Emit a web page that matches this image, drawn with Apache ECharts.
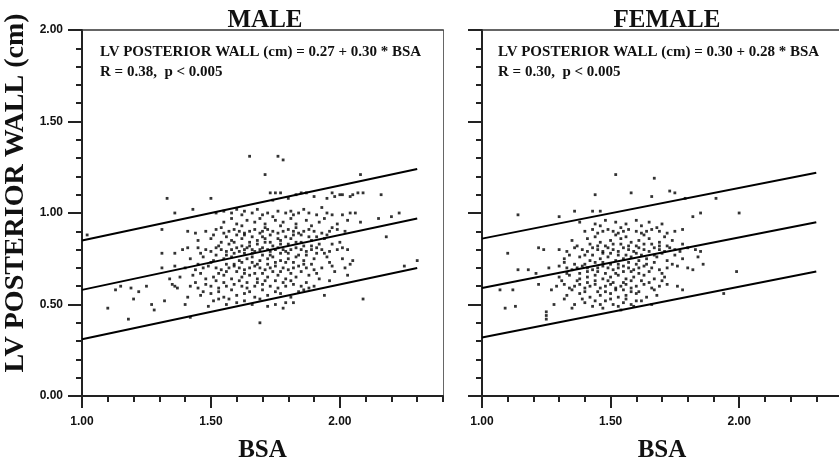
<!DOCTYPE html>
<html>

<head>
    <meta charset="utf-8">
    <script type="text/javascript" src="https://cdn.jsdelivr.net/npm/echarts@6/dist/echarts.min.js"></script>
    <title>LV posterior wall vs BSA</title>
</head>

<body style="margin:0;background:#fff;">
    <div id="container" style="width:839px;height:461px;"></div>
    <script type="text/javascript">
    // ---- data ----
    var panelTitles = ['MALE', 'FEMALE'];
    var equations = [
        'LV POSTERIOR WALL (cm) = 0.27 + 0.30 * BSA',
        'LV POSTERIOR WALL (cm) = 0.30 + 0.28 * BSA'
    ];
    var stats = ['R = 0.38,  p < 0.005', 'R = 0.30,  p < 0.005'];

    var xMajor = [1.0, 1.5, 2.0];       // labelled BSA ticks
    var lineBsa = [1.0, 2.3];           // regression lines run over this range

    var maleUpper = [0.85, 1.24];
    var maleMid = [0.58, 0.97];
    var maleLower = [0.31, 0.70];
    var femaleUpper = [0.86, 1.22];
    var femaleMid = [0.59, 0.95];
    var femaleLower = [0.32, 0.68];

    var malePoints = [
        [1.65,1.31],[1.76,1.31],[1.78,1.29],[1.71,1.21],[2.08,1.21],[2.16,1.10],
        [1.33,1.08],[1.50,1.08],[1.43,1.02],[1.36,1.00],[1.02,0.88],[1.31,0.91],
        [1.13,0.58],[1.15,0.60],[1.19,0.59],[1.22,0.57],[1.25,0.60],[1.10,0.48],
        [1.20,0.53],[1.18,0.42],[1.27,0.50],[1.28,0.47],[1.32,0.52],[1.69,0.40],
        [2.09,0.53],[2.30,0.74],[2.25,0.71],[2.18,0.87],[2.23,1.00],[2.20,0.98],
        [2.15,0.97],[1.94,0.55],[1.96,0.63],
        [1.31,0.78],[1.36,0.78],[1.39,0.80],[1.41,0.81],[1.45,0.81],
        [1.34,0.64],[1.36,0.60],[1.37,0.59],[1.35,0.61],
        [1.40,0.50],[1.41,0.54],[1.42,0.43],[1.49,0.49],[1.51,0.52],[1.53,0.53],[1.56,0.50],
        [1.73,1.11],[1.75,1.11],[1.77,1.11],[1.74,1.07],[1.83,1.10],[1.85,1.11],[1.87,1.11],
        [1.97,1.11],[1.98,1.09],[2.00,1.10],[2.01,1.10],[2.04,1.09],[2.05,1.10],[2.07,1.11],[2.09,1.11],
        [1.80,1.08],[1.90,1.09],[1.95,1.08],
        [1.52,1.00],[1.55,1.01],[1.58,1.00],[1.60,1.02],[1.62,0.99],[1.63,1.01],[1.66,1.00],[1.68,1.02],
        [1.70,0.99],[1.72,1.00],[1.74,0.98],[1.76,1.01],[1.79,1.00],[1.81,1.01],[1.82,0.99],[1.84,1.00],
        [1.86,1.02],[1.88,1.00],[1.91,0.99],[1.93,1.03],[1.95,1.00],[1.97,0.99],[2.01,0.99],[2.04,1.00],[2.06,1.00],
        [1.55,0.95],[1.60,0.94],[1.64,0.96],[1.67,0.95],[1.71,0.94],[1.75,0.96],[1.78,0.95],[1.83,0.94],
        [1.87,0.96],[1.92,0.95],[1.99,0.94],[2.03,0.96],[2.08,0.95],
        [1.41,0.90],[1.44,0.89],[1.48,0.90],[1.52,0.91],[1.55,0.89],[1.57,0.90],[1.59,0.91],[1.61,0.90],
        [1.63,0.89],[1.65,0.90],[1.67,0.91],[1.69,0.89],[1.70,0.90],[1.72,0.91],[1.74,0.90],[1.76,0.89],
        [1.78,0.90],[1.80,0.91],[1.82,0.90],[1.84,0.89],[1.86,0.90],[1.88,0.91],[1.90,0.90],[1.93,0.89],
        [1.96,0.90],[1.99,0.91],[2.02,0.90],
        [1.45,0.85],[1.50,0.86],[1.54,0.84],[1.58,0.85],[1.62,0.86],[1.65,0.84],[1.68,0.85],[1.71,0.86],
        [1.73,0.84],[1.77,0.85],[1.81,0.86],[1.85,0.84],[1.89,0.85],[1.94,0.86],[2.00,0.84],
        [1.48,0.80],[1.50,0.79],[1.52,0.81],[1.54,0.80],[1.56,0.79],[1.58,0.80],[1.60,0.81],[1.61,0.79],
        [1.63,0.80],[1.64,0.81],[1.66,0.80],[1.67,0.79],[1.69,0.80],[1.70,0.81],[1.72,0.80],[1.73,0.79],
        [1.75,0.80],[1.76,0.81],[1.78,0.80],[1.79,0.79],[1.81,0.80],[1.83,0.81],[1.85,0.80],[1.87,0.79],
        [1.89,0.80],[1.91,0.81],[1.93,0.80],[1.96,0.79],[1.99,0.80],[2.01,0.81],[2.03,0.80],
        [1.42,0.75],[1.47,0.76],[1.51,0.74],[1.55,0.75],[1.58,0.76],[1.61,0.74],[1.64,0.75],[1.66,0.76],
        [1.69,0.74],[1.72,0.75],[1.74,0.76],[1.77,0.74],[1.80,0.75],[1.83,0.76],[1.86,0.74],[1.90,0.75],
        [1.95,0.76],[2.01,0.75],[2.05,0.74],
        [1.31,0.70],[1.36,0.71],[1.40,0.70],[1.44,0.69],[1.47,0.70],[1.49,0.71],[1.52,0.70],[1.54,0.69],
        [1.57,0.70],[1.59,0.71],[1.61,0.70],[1.63,0.69],[1.65,0.70],[1.67,0.71],[1.69,0.70],[1.71,0.69],
        [1.73,0.70],[1.75,0.71],[1.78,0.70],[1.80,0.69],[1.82,0.70],[1.84,0.71],[1.87,0.70],[1.90,0.69],
        [1.93,0.70],[1.97,0.71],[2.02,0.70],[2.04,0.72],
        [1.38,0.65],[1.43,0.66],[1.48,0.64],[1.51,0.65],[1.55,0.66],[1.58,0.64],[1.62,0.65],[1.65,0.66],
        [1.68,0.64],[1.72,0.65],[1.76,0.66],[1.79,0.64],[1.83,0.65],[1.88,0.66],[1.92,0.64],
        [1.42,0.60],[1.45,0.59],[1.48,0.61],[1.50,0.60],[1.53,0.59],[1.56,0.60],[1.59,0.61],[1.62,0.60],
        [1.64,0.59],[1.67,0.60],[1.70,0.61],[1.73,0.60],[1.76,0.59],[1.79,0.60],[1.82,0.61],[1.85,0.60],[1.88,0.59],
        [1.46,0.55],[1.50,0.56],[1.55,0.54],[1.60,0.55],[1.63,0.56],[1.67,0.54],[1.72,0.55],[1.77,0.56],[1.81,0.54],
        [1.60,0.51],[1.66,0.50],[1.72,0.49],[1.75,0.50],[1.78,0.48],[1.79,0.51],[1.82,0.51],
        [1.57,0.83],[1.62,0.82],[1.68,0.83],[1.74,0.82],[1.80,0.83],[1.86,0.82],[1.92,0.83],
        [1.56,0.77],[1.63,0.78],[1.70,0.77],[1.77,0.78],[1.84,0.77],[1.91,0.78],
        [1.59,0.72],[1.66,0.73],[1.72,0.72],[1.79,0.73],[1.86,0.72],
        [1.53,0.67],[1.60,0.68],[1.67,0.67],[1.74,0.68],[1.81,0.67],
        [1.60,0.88],[1.66,0.87],[1.73,0.88],[1.79,0.87],[1.85,0.88],[1.91,0.87],
        [1.64,0.62],[1.71,0.63],[1.78,0.62],[1.52,0.63],
        [1.58,0.97],[1.69,0.97],[1.81,0.97],[1.94,0.97],
        [1.54,0.92],[1.62,0.93],[1.71,0.92],[1.77,0.93],[1.83,0.92],[1.89,0.93],[1.97,0.92],
        [1.51,0.88],[1.56,0.87],[1.63,0.88],[1.70,0.87],[1.76,0.86],[1.82,0.88],[1.88,0.87],[1.95,0.88],
        [1.53,0.82],[1.59,0.84],[1.65,0.82],[1.71,0.84],[1.77,0.83],[1.83,0.84],[1.89,0.82],[1.97,0.83],
        [1.46,0.78],[1.52,0.77],[1.59,0.78],[1.66,0.78],[1.73,0.77],[1.80,0.78],[1.87,0.77],[1.94,0.78],
        [1.45,0.72],[1.50,0.73],[1.56,0.72],[1.62,0.73],[1.68,0.72],[1.75,0.73],[1.82,0.73],[1.89,0.72],[1.96,0.73],
        [1.46,0.67],[1.56,0.68],[1.63,0.67],[1.70,0.67],[1.77,0.68],[1.85,0.68],[1.91,0.67],
        [1.44,0.62],[1.55,0.62],[1.61,0.63],[1.68,0.62],[1.75,0.63],[1.81,0.63],[1.87,0.62],
        [1.47,0.57],[1.53,0.57],[1.58,0.58],[1.65,0.57],[1.70,0.58],[1.75,0.57],[1.84,0.57],
        [1.57,0.53],[1.63,0.52],[1.69,0.53],[1.86,0.58],[1.90,0.60],[1.98,0.68],[2.03,0.66]
    ];

    var femalePoints = [
        [1.52,1.21],[1.67,1.19],[1.44,1.10],[1.58,1.11],[1.73,1.12],[1.75,1.11],[1.79,1.08],[1.91,1.08],[1.66,1.09],
        [1.14,0.99],[1.36,1.01],[1.30,0.98],[2.00,1.00],[1.85,1.00],[1.82,0.98],[1.43,1.01],[1.46,1.01],
        [1.10,0.78],[1.14,0.69],[1.18,0.69],[1.21,0.67],[1.07,0.58],[1.12,0.58],[1.09,0.48],[1.13,0.49],
        [1.25,0.44],[1.25,0.42],[1.25,0.46],[1.99,0.68],[1.94,0.56],[1.22,0.81],[1.24,0.80],
        [1.28,0.50],[1.32,0.53],[1.35,0.48],[1.22,0.61],[1.27,0.58],[1.86,0.72],[1.82,0.69],[1.78,0.58],
        [1.38,0.95],[1.44,0.94],[1.48,0.96],[1.52,0.95],[1.56,0.94],[1.60,0.96],[1.65,0.95],[1.70,0.94],
        [1.40,0.90],[1.43,0.91],[1.45,0.89],[1.47,0.90],[1.49,0.91],[1.51,0.90],[1.53,0.89],[1.55,0.90],
        [1.57,0.91],[1.60,0.90],[1.62,0.89],[1.64,0.90],[1.66,0.91],[1.69,0.90],[1.72,0.89],[1.75,0.90],[1.78,0.91],
        [1.35,0.85],[1.41,0.86],[1.46,0.84],[1.50,0.85],[1.54,0.86],[1.58,0.84],[1.61,0.85],[1.65,0.86],[1.69,0.84],[1.74,0.85],
        [1.30,0.80],[1.33,0.79],[1.36,0.81],[1.39,0.80],[1.41,0.79],[1.43,0.81],[1.45,0.80],[1.47,0.79],
        [1.49,0.81],[1.51,0.80],[1.53,0.79],[1.55,0.81],[1.57,0.80],[1.59,0.79],[1.61,0.81],[1.63,0.80],
        [1.65,0.79],[1.67,0.81],[1.69,0.80],[1.71,0.79],[1.73,0.81],[1.75,0.80],[1.77,0.79],[1.80,0.81],[1.83,0.80],[1.85,0.79],
        [1.32,0.75],[1.38,0.76],[1.42,0.74],[1.46,0.75],[1.49,0.76],[1.52,0.74],[1.55,0.75],[1.58,0.76],
        [1.61,0.74],[1.64,0.75],[1.68,0.76],[1.72,0.74],[1.78,0.75],[1.84,0.76],
        [1.26,0.70],[1.30,0.71],[1.33,0.70],[1.35,0.69],[1.37,0.70],[1.39,0.71],[1.41,0.70],[1.43,0.69],
        [1.45,0.70],[1.47,0.71],[1.49,0.70],[1.51,0.69],[1.53,0.70],[1.55,0.71],[1.57,0.70],[1.59,0.69],
        [1.61,0.70],[1.63,0.71],[1.66,0.70],[1.69,0.69],[1.72,0.70],[1.76,0.71],[1.80,0.70],
        [1.30,0.65],[1.34,0.66],[1.38,0.64],[1.41,0.65],[1.44,0.66],[1.47,0.64],[1.50,0.65],[1.53,0.66],
        [1.56,0.64],[1.59,0.65],[1.63,0.66],[1.67,0.64],[1.71,0.65],
        [1.29,0.60],[1.32,0.61],[1.34,0.59],[1.36,0.60],[1.38,0.61],[1.40,0.59],[1.42,0.60],[1.44,0.61],
        [1.46,0.59],[1.48,0.60],[1.50,0.61],[1.52,0.59],[1.54,0.60],[1.56,0.61],[1.58,0.59],[1.60,0.60],
        [1.63,0.61],[1.66,0.59],[1.69,0.60],[1.72,0.61],[1.76,0.60],
        [1.33,0.55],[1.38,0.56],[1.42,0.54],[1.46,0.55],[1.50,0.56],[1.53,0.54],[1.56,0.55],[1.60,0.56],[1.64,0.54],[1.68,0.55],
        [1.36,0.50],[1.40,0.51],[1.43,0.49],[1.46,0.50],[1.48,0.52],[1.51,0.50],[1.53,0.49],[1.55,0.51],[1.58,0.50],[1.62,0.52],[1.66,0.50],
        [1.42,0.83],[1.48,0.82],[1.54,0.83],[1.60,0.82],[1.66,0.83],[1.72,0.82],
        [1.40,0.77],[1.47,0.78],[1.53,0.77],[1.60,0.78],[1.67,0.77],
        [1.36,0.72],[1.44,0.73],[1.50,0.72],[1.57,0.73],[1.64,0.72],
        [1.38,0.67],[1.45,0.68],[1.52,0.67],[1.58,0.68],
        [1.41,0.62],[1.49,0.63],[1.55,0.62],[1.62,0.63],
        [1.45,0.57],[1.52,0.58],[1.58,0.57],
        [1.46,0.93],[1.54,0.92],[1.62,0.93],[1.68,0.92],
        [1.44,0.87],[1.52,0.88],[1.56,0.87],[1.63,0.88],[1.71,0.87],
        [1.37,0.82],[1.45,0.82],[1.51,0.83],[1.57,0.82],[1.63,0.83],[1.69,0.82],[1.78,0.83],
        [1.34,0.77],[1.43,0.77],[1.50,0.78],[1.56,0.77],[1.62,0.77],[1.70,0.78],[1.75,0.77],
        [1.32,0.73],[1.40,0.72],[1.47,0.73],[1.53,0.72],[1.60,0.72],[1.67,0.73],[1.74,0.72],
        [1.33,0.67],[1.41,0.68],[1.48,0.67],[1.55,0.68],[1.61,0.67],[1.65,0.68],[1.70,0.67],
        [1.31,0.63],[1.37,0.63],[1.44,0.63],[1.51,0.62],[1.58,0.63],[1.65,0.62],[1.70,0.63],
        [1.35,0.58],[1.40,0.57],[1.48,0.57],[1.55,0.58],[1.61,0.57],[1.67,0.58],
        [1.39,0.53],[1.44,0.52],[1.50,0.53],[1.56,0.53],[1.60,0.52],
        [1.47,0.48],[1.54,0.47],[1.59,0.49]
    ];

    // ---- chart ----
    var ink = '#111';
    var serif = '"Liberation Serif", "Times New Roman", serif';
    var sans = '"Liberation Sans", Arial, sans-serif';

    function linePairs(ys) {
        return lineBsa.map(function(x, i) { return [x, ys[i]]; });
    }

    function isMajor(v) {
        return xMajor.indexOf(+(+v).toFixed(1)) >= 0;
    }

    // three x axes per panel: short ticks every 0.1, long ticks at the labels, top frame line
    function panelXAxes(g) {
        return [{
            type: 'value', gridIndex: g, position: 'bottom',
            min: 1, max: 2.4, interval: 0.1,
            name: 'BSA', nameLocation: 'middle', nameGap: 42,
            nameTextStyle: { fontFamily: serif, fontWeight: 'bold', fontSize: 25, color: ink },
            axisLine: { show: true, onZero: false, lineStyle: { color: '#222', width: 2 } },
            axisTick: { show: true, length: 6, lineStyle: { color: '#222', width: 2 } },
            axisLabel: {
                margin: 20, fontFamily: sans, fontWeight: 'bold', fontSize: 12, color: ink,
                formatter: function(v) { return isMajor(v) ? (+v).toFixed(2) : ''; }
            },
            splitLine: { show: false }
        }, {
            type: 'value', gridIndex: g, position: 'bottom',
            min: 1, max: 2.4, interval: 0.5,
            axisLine: { show: false },
            axisTick: { show: true, customValues: xMajor, length: 12, lineStyle: { color: '#222', width: 2 } },
            axisLabel: { show: false },
            splitLine: { show: false }
        }, {
            type: 'value', gridIndex: g, position: 'top',
            min: 1, max: 2.4,
            axisLine: { show: true, onZero: false, lineStyle: { color: '#333', width: 1.5 } },
            axisTick: { show: false }, axisLabel: { show: false }, splitLine: { show: false }
        }];
    }

    function panelYAxes(g, labels) {
        return [{
            type: 'value', gridIndex: g, position: 'left',
            min: 0, max: 2, interval: 0.5,
            axisLine: { show: true, onZero: false, lineStyle: { color: '#222', width: 2 } },
            axisTick: { show: true, length: 14, lineStyle: { color: '#222', width: 2 } },
            minorTick: { show: true, splitNumber: 5, length: 6, lineStyle: { color: '#222', width: 2 } },
            axisLabel: {
                show: labels, margin: 19, fontFamily: sans, fontWeight: 'bold', fontSize: 12, color: ink,
                formatter: function(v) { return (+v).toFixed(2); }
            },
            splitLine: { show: false }, minorSplitLine: { show: false }
        }, {
            type: 'value', gridIndex: g, position: 'right',
            min: 0, max: 2,
            axisLine: { show: true, onZero: false, lineStyle: { color: '#666', width: 1 } },
            axisTick: { show: false }, axisLabel: { show: false }, splitLine: { show: false }
        }];
    }

    function scatter(data, xi, yi) {
        return {
            type: 'scatter', xAxisIndex: xi, yAxisIndex: yi, data: data,
            symbol: 'rect', symbolSize: 2.8, silent: true,
            itemStyle: { color: '#000' }
        };
    }

    function line(ys, xi, yi) {
        return {
            type: 'line', xAxisIndex: xi, yAxisIndex: yi, data: linePairs(ys),
            symbol: 'none', silent: true,
            lineStyle: { color: '#000', width: 2 }
        };
    }

    function noteText(x, y, txt) {
        return {
            type: 'text', x: x, y: y,
            style: { text: txt, font: 'bold 15px ' + serif, fill: ink, textVerticalAlign: 'middle' }
        };
    }

    var myChart = echarts.init(document.getElementById('container'));

    var option = {
        backgroundColor: '#fff',
        animation: false,
        title: [{
            text: panelTitles[0], left: 260, top: 3, textAlign: 'center',
            textStyle: { fontFamily: serif, fontWeight: 'bold', fontSize: 25, color: ink }
        }, {
            text: panelTitles[1], left: 662, top: 3, textAlign: 'center',
            textStyle: { fontFamily: serif, fontWeight: 'bold', fontSize: 25, color: ink }
        }],
        grid: [
            { left: 82, right: 396, top: 30, bottom: 65, outerBoundsMode: 'none', containLabel: false },
            { left: 482, right: -3, top: 30, bottom: 65, outerBoundsMode: 'none', containLabel: false }
        ],
        xAxis: panelXAxes(0).concat(panelXAxes(1)),
        yAxis: panelYAxes(0, true).concat(panelYAxes(1, false)),
        graphic: [
            {
                type: 'text', x: 16, y: 193, rotation: Math.PI / 2,
                style: {
                    text: 'LV POSTERIOR WALL (cm)', font: 'bold 28px ' + serif, fill: ink,
                    textAlign: 'center', textVerticalAlign: 'middle'
                }
            },
            noteText(100, 52, equations[0]),
            noteText(100, 72, stats[0]),
            noteText(498, 52, equations[1]),
            noteText(498, 72, stats[1])
        ],
        series: [
            scatter(malePoints, 0, 0),
            line(maleUpper, 0, 0),
            line(maleMid, 0, 0),
            line(maleLower, 0, 0),
            scatter(femalePoints, 3, 2),
            line(femaleUpper, 3, 2),
            line(femaleMid, 3, 2),
            line(femaleLower, 3, 2)
        ]
    };

    myChart.setOption(option);
    </script>
</body>

</html>
